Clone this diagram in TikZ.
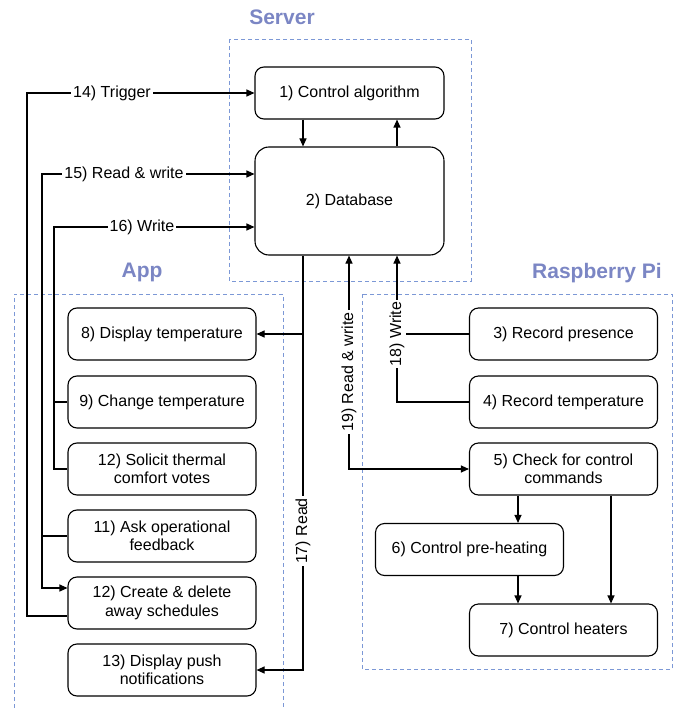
\documentclass[tikz,border=0pt]{standalone}
\usepackage{fontspec}
\setmainfont{Liberation Sans}
\usetikzlibrary{arrows.meta}
\definecolor{grpblue}{HTML}{7C98D6}
\definecolor{ttlblue}{HTML}{7B86C4}
\begin{document}
\begin{tikzpicture}[x=1pt, y=-1pt, line width=1.1pt, >={Triangle[length=8pt,width=7pt]},
        box/.style={draw, rounded corners=9pt, minimum width=188pt, minimum height=52pt, align=center, font=\fontsize{16}{18.5}\selectfont},
        lbl/.style={fill=white, inner sep=2pt, font=\fontsize{16}{18.5}\selectfont},
        grp/.style={draw=grpblue, dash pattern=on 4pt off 3pt, line width=0.9pt},
        ttl/.style={text=ttlblue, font=\fontsize{21}{24}\selectfont\bfseries}]
        \useasboundingbox (0,0) rectangle (680,708);
        \draw[grp] (229,39) rectangle (471,281);
        \draw[grp] (14,708) -- (14,294) -- (283,294) -- (283,708);
        \draw[grp] (362,294) rectangle (672,669);
        \node[ttl] (server) at (282,17) {Server};
        \node[ttl] (app) at (142,272) {App};
        \node[ttl] (pi) at (597,273) {Raspberry Pi};
        % server
        \node[box, minimum width=189pt] (ctrl) at (349.5,93) {1) Control algorithm};
        \node[box, minimum width=189pt, minimum height=108pt, rounded corners=14pt] (db) at (349.5,201) {2) Database};
        % app
        \node[box] (disp) at (162,334) {8) Display temperature};
        \node[box] (change) at (162,402) {9) Change temperature};
        \node[box] (solicit) at (162,469) {12) Solicit thermal\\comfort votes};
        \node[box] (ask) at (162,536) {11) Ask operational\\feedback};
        \node[box] (create) at (162,603) {12) Create \& delete\\away schedules};
        \node[box] (push) at (162,670) {13) Display push\\notifications};
        % raspberry pi
        \node[box] (presence) at (563.5,334) {3) Record presence};
        \node[box] (rectemp) at (563.5,402) {4) Record temperature};
        \node[box] (check) at (563.5,469) {5) Check for control\\commands};
        \node[box] (preheat) at (469.5,549.5) {6) Control pre-heating};
        \node[box] (heaters) at (563.5,630) {7) Control heaters};
        \coordinate (c14) at (27,93);
        \coordinate (c15) at (42,174);
        \coordinate (c16) at (54,227);
        \coordinate (c17) at (303,670);
        \coordinate (c19) at (349,469);
        \coordinate (c18) at (397,402);
        \coordinate (a56) at (518,0);
        \coordinate (a57) at (611,0);
        \draw[->] (ctrl.south -| c17) -- (db.north -| c17);
        \draw[->] (db.north -| c18) -- (ctrl.south -| c18);
        \draw[<-] (ctrl.west) -- (c14) |- ([yshift=-13pt]create.west);
        \draw[<->] ([yshift=27pt]db.west) -- (c15) |- ([yshift=15pt]create.west);
        \draw (c15 |- ask.west) -- (ask.west);
        \draw[<-] ([yshift=-26pt]db.west) -- (c16) |- (solicit.west);
        \draw (c16 |- change.west) -- (change.west);
        \draw[->] (db.south -| c17) -- (c17) -- (push.east);
        \draw[->] (c17 |- disp.east) -- (disp.east);
        \draw[<->] (db.south -| c19) -- (c19) -- (check.west);
        \draw[->] (rectemp.west) -- (c18) -- (db.south -| c18);
        \draw (presence.west) -- (presence.west -| c18);
        \draw[->] (check.south -| a56) -- (preheat.north -| a56);
        \draw[->] (preheat.south -| a56) -- (heaters.north -| a56);
        \draw[->] (check.south -| a57) -- (heaters.north -| a57);
        \node[lbl] (t14) at (112,93) {14) Trigger};
        \node[lbl] (t15) at (124,174) {15) Read \& write};
        \node[lbl] (t16) at (142,227) {16) Write};
        \node[lbl, rotate=90] (t17) at (303,531) {17) Read};
        \node[lbl, rotate=90] (t18) at (397,334) {18) Write};
        \node[lbl, rotate=90] (t19) at (349,372) {19) Read \& write};
\end{tikzpicture}
\end{document}
